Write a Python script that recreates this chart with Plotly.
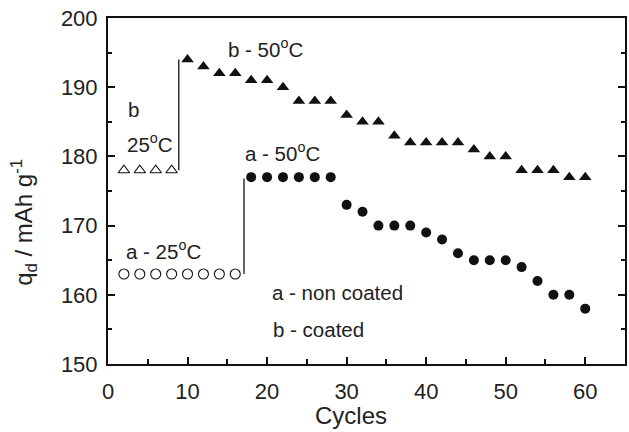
import plotly.graph_objects as go

# ---- data ----
cycles_a25 = [2, 4, 6, 8, 10, 12, 14, 16]
q_a25 = [163, 163, 163, 163, 163, 163, 163, 163]

cycles_b25 = [2, 4, 6, 8]
q_b25 = [178, 178, 178, 178]

cycles_a50 = [18, 20, 22, 24, 26, 28, 30, 32, 34, 36, 38, 40, 42, 44, 46, 48, 50, 52, 54, 56, 58, 60]
q_a50 = [177, 177, 177, 177, 177, 177, 173, 172, 170, 170, 170, 169, 168, 166, 165, 165, 165, 164, 162, 160, 160, 158]

cycles_b50 = [10, 12, 14, 16, 18, 20, 22, 24, 26, 28, 30, 32, 34, 36, 38, 40, 42, 44, 46, 48, 50, 52, 54, 56, 58, 60]
q_b50 = [194, 193, 192, 192, 191, 191, 190, 188, 188, 188, 186, 185, 185, 183, 182, 182, 182, 182, 181, 180, 180, 178, 178, 178, 177, 177]

# temperature-switch markers (cycle, from q, to q)
switch_b = {"x": [8.9, 8.9], "y": [178, 194]}
switch_a = {"x": [17.1, 17.1], "y": [163, 176.8]}

x_ticks = [0, 10, 20, 30, 40, 50, 60]
y_ticks = [150, 160, 170, 180, 190, 200]

INK = "#111111"
TXT = "#222222"
FONT = "Liberation Sans, Arial, sans-serif"

fig = go.Figure()

for sw in (switch_b, switch_a):
    fig.add_trace(go.Scatter(x=sw["x"], y=sw["y"], mode="lines",
                             line=dict(color=INK, width=1.3), showlegend=False, hoverinfo="skip"))

fig.add_trace(go.Scatter(x=cycles_a25, y=q_a25, mode="markers",
                         marker=dict(symbol="circle-open", size=10, color=INK, line=dict(width=1.1, color=INK)),
                         showlegend=False))
fig.add_trace(go.Scatter(x=cycles_b25, y=q_b25, mode="markers",
                         marker=dict(symbol="triangle-up-open", size=10, color=INK, line=dict(width=1.1, color=INK)),
                         showlegend=False))
fig.add_trace(go.Scatter(x=cycles_a50, y=q_a50, mode="markers",
                         marker=dict(symbol="circle", size=10, color=INK, line=dict(width=0)),
                         showlegend=False))
fig.add_trace(go.Scatter(x=cycles_b50, y=q_b50, mode="markers",
                         marker=dict(symbol="triangle-up", size=11, color=INK, line=dict(width=0)),
                         showlegend=False))

labels = [
    ("b - 50<sup>o</sup>C", 14.8, 195.7),
    ("b", 2.3, 186.8),
    ("25<sup>o</sup>C", 2.1, 182.0),
    ("a - 50<sup>o</sup>C", 17.0, 180.7),
    ("a - 25<sup>o</sup>C", 2.0, 166.5),
    ("a - non coated", 20.4, 160.3),
    ("b - coated", 20.5, 155.0),
]
for txt, x, y in labels:
    fig.add_annotation(x=x, y=y, xref="x", yref="y", text=txt, showarrow=False,
                       xanchor="left", yanchor="middle",
                       font=dict(family=FONT, size=20.5, color=TXT))

# axis titles
fig.add_annotation(x=-0.163, y=0.41, xref="paper", yref="paper",
                   text="q<sub>d</sub> / mAh g<sup>-1</sup>", textangle=-90, showarrow=False,
                   xanchor="center", yanchor="middle",
                   font=dict(family=FONT, size=24, color=TXT))
fig.add_annotation(x=0.47, y=-0.148, xref="paper", yref="paper", text="Cycles", showarrow=False,
                   xanchor="center", yanchor="middle",
                   font=dict(family=FONT, size=24, color=TXT))

axis_common = dict(showgrid=False, zeroline=False, showline=True, linecolor=INK, linewidth=2,
                   ticks="inside", tickcolor=INK, tickwidth=1.5, ticklen=7,
                   tickfont=dict(family=FONT, size=22, color=TXT))

fig.update_xaxes(range=[0, 65], tickvals=x_ticks, mirror=True, ticklabelstandoff=7,
                 minor=dict(ticks="inside", dtick=5, ticklen=5, tickcolor=INK, tickwidth=1.5),
                 **axis_common)
fig.update_yaxes(range=[150, 200], tickvals=y_ticks, mirror="ticks", ticklabelstandoff=4,
                 minor=dict(ticks="inside", dtick=5, ticklen=4, tickcolor=INK, tickwidth=1.5),
                 **axis_common)

fig.update_layout(width=629, height=432, margin=dict(l=108, r=2, t=18, b=68),
                  paper_bgcolor="white", plot_bgcolor="white", showlegend=False,
                  font=dict(family=FONT))

fig.write_html("out.html")
